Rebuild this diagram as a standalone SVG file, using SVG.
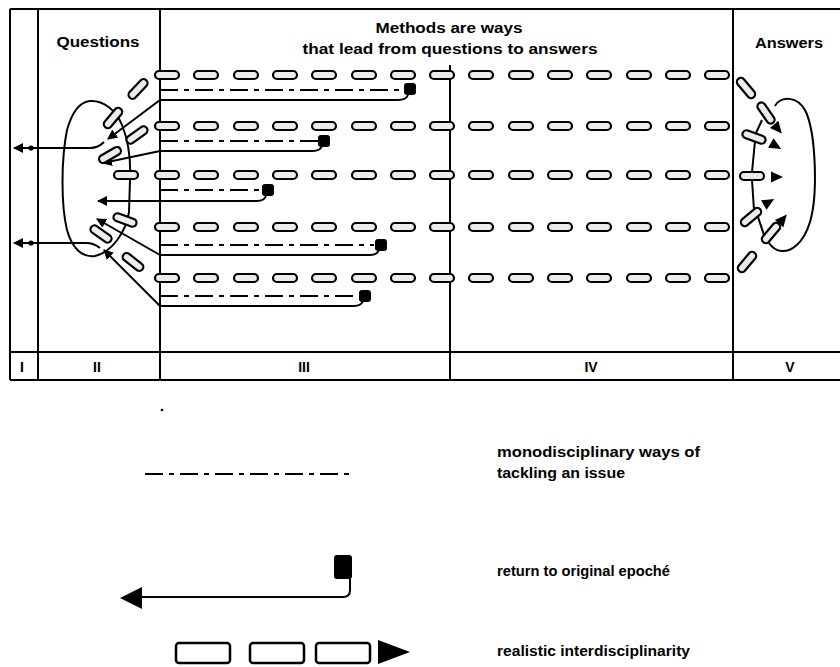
<svg xmlns="http://www.w3.org/2000/svg" xmlns:xlink="http://www.w3.org/1999/xlink" width="840" height="667" viewBox="0 0 840 667">
<style>
.frame{stroke:#000;stroke-width:2;fill:none}
.cap{fill:#ececec;stroke:#000;stroke-width:2.2}
.mono{stroke:#000;stroke-width:2;fill:none;stroke-dasharray:18 6 5 6}
.ret{stroke:#000;stroke-width:2;fill:none;stroke-linejoin:round}
.sq{fill:#000}
.loop{stroke:#000;stroke-width:2;fill:none}
.t{font-family:"Liberation Sans",Arial,sans-serif;font-weight:bold;font-size:14.5px;fill:#000}
.num{font-family:"Liberation Sans",Arial,sans-serif;font-weight:bold;font-size:14px;fill:#000;text-anchor:middle}
</style>
<defs>
<rect id="cap" x="-12" y="-4" width="24" height="8" rx="4" class="cap"/>
<polygon id="tri" points="-6,-5.5 6,0 -6,5.5" fill="#000"/>
<marker id="ah" viewBox="0 0 10 10" refX="9" refY="5" markerWidth="5" markerHeight="5" orient="auto" markerUnits="strokeWidth">
<path d="M0,0 L10,5 L0,10 z" fill="#000"/>
</marker>
<g id="capRow">
<use href="#cap" x="167"/><use href="#cap" x="206"/><use href="#cap" x="246"/><use href="#cap" x="285"/><use href="#cap" x="324"/><use href="#cap" x="364"/><use href="#cap" x="403"/><use href="#cap" x="442"/><use href="#cap" x="481"/><use href="#cap" x="521"/><use href="#cap" x="560"/><use href="#cap" x="599"/><use href="#cap" x="639"/><use href="#cap" x="678"/><use href="#cap" x="717"/>
</g>
</defs>
<rect width="840" height="667" fill="#fff"/>

<g id="frame" class="frame">
<path d="M10,9 H840 M10,352 H840 M10,380 H840"/>
<path d="M10,9 V380 M38,9 V380 M160,9 V380 M733,9 V380"/>
<path d="M450,65 V380"/>
</g>

<g id="col-I"><text class="num" x="22" y="372">I</text></g>
<g id="col-II"><text class="t" x="98" y="47" text-anchor="middle" textLength="83" lengthAdjust="spacingAndGlyphs">Questions</text><text class="num" x="97" y="372">II</text></g>
<g id="col-III"><text class="t" x="449" y="33" text-anchor="middle" textLength="147" lengthAdjust="spacingAndGlyphs">Methods are ways</text><text class="t" x="450" y="54" text-anchor="middle" textLength="295" lengthAdjust="spacingAndGlyphs">that lead from questions to answers</text><text class="num" x="304" y="372">III</text></g>
<g id="col-IV"><text class="num" x="591" y="372">IV</text></g>
<g id="col-V"><text class="t" x="789" y="48" text-anchor="middle" textLength="68" lengthAdjust="spacingAndGlyphs">Answers</text><text class="num" x="790" y="372">V</text></g>

<g id="question-loop">
<path class="loop" d="M90,101 C103,100 116,110 122,125 C128,140 131,160 130,180 L129,212 C126,232 112,252 95,256 C82,258 72,248 67,230 C61,205 61,160 67,130 C72,112 80,102 90,101 Z"/>
</g>

<g id="answer-loop">
<path class="loop" d="M775,106 C780,96 798,95 806,112 C816,135 818,195 810,222 C803,245 790,252 781,251 C775,250 771,246 769,243"/>
</g>

<g id="connectors">
<path class="mono" d="M160,90 H404"/>
<path class="mono" d="M160,141 H318"/>
<path class="mono" d="M160,190 H262"/>
<path class="mono" d="M160,245 H374"/>
<path class="mono" d="M160,296 H358"/>
<rect class="sq" x="404" y="83" width="12" height="12" rx="3"/>
<rect class="sq" x="318" y="135" width="12" height="12" rx="3"/>
<rect class="sq" x="262" y="184" width="12" height="12" rx="3"/>
<rect class="sq" x="375" y="239" width="12" height="12" rx="3"/>
<rect class="sq" x="359" y="290" width="12" height="12" rx="3"/>
<path class="ret" marker-end="url(#ah)" d="M408,95 Q406,100 398,100 H160 L108,139"/>
<path class="ret" marker-end="url(#ah)" d="M322,146 Q320,151 313,151 H160 L103,163"/>
<path class="ret" marker-end="url(#ah)" d="M266,196 Q264,201 257,201 H98"/>
<path class="ret" marker-end="url(#ah)" d="M379,250 Q377,255 370,255 H160 L97,219"/>
<path class="ret" marker-end="url(#ah)" d="M363,301 Q361,306 354,306 H160 L104,250"/>
<path class="ret" marker-end="url(#ah)" d="M104,142 Q98,148 90,148 H14"/>
<path class="ret" marker-end="url(#ah)" d="M100,248 Q94,243 86,243 H14"/>
<circle cx="31" cy="148" r="2.6" fill="#000"/>
<circle cx="31" cy="243" r="2.6" fill="#000"/>

<use href="#capRow" y="75"/>
<use href="#capRow" y="126"/>
<use href="#capRow" y="175"/>
<use href="#capRow" y="227"/>
<use href="#capRow" y="278"/>

<use href="#cap" transform="translate(113,118) rotate(-50)"/>
<use href="#cap" transform="translate(138,89) rotate(-47)"/>
<use href="#cap" transform="translate(110,155) rotate(-30)"/>
<use href="#cap" transform="translate(137,135) rotate(-36)"/>
<use href="#cap" transform="translate(126,175)"/>
<use href="#cap" transform="translate(125,220) rotate(20)"/>
<use href="#cap" transform="translate(101,234) rotate(35)"/>
<use href="#cap" transform="translate(133,262) rotate(38)"/>

<path class="ret" d="M762,120 L756,133 M755,141 L752,172 M752,180 L754,210 M757,214 L765,238"/>
<use href="#cap" transform="translate(746,88) rotate(50)"/>
<use href="#cap" transform="translate(766,113) rotate(55)"/>
<use href="#tri" transform="translate(778,129) rotate(50)"/>
<use href="#cap" transform="translate(754,137) rotate(20)"/>
<use href="#tri" transform="translate(776,146) rotate(30)"/>
<use href="#cap" transform="translate(752,176)"/>
<use href="#tri" transform="translate(777,177)"/>
<use href="#cap" transform="translate(751,217) rotate(-40)"/>
<use href="#tri" transform="translate(769,202) rotate(-30)"/>
<use href="#cap" transform="translate(771,233) rotate(-50)"/>
<use href="#tri" transform="translate(783,219) rotate(-50)"/>
<use href="#cap" transform="translate(747,262) rotate(-50)"/>
</g>

<g id="legend">
<circle cx="162" cy="410" r="1.3" fill="#000"/>
<g id="legend-mono">
<path class="mono" d="M145,474 H350"/>
<text class="t" x="497" y="457" textLength="203" lengthAdjust="spacingAndGlyphs">monodisciplinary ways of</text>
<text class="t" x="497" y="478" textLength="128" lengthAdjust="spacingAndGlyphs">tackling an issue</text>
</g>
<g id="legend-return">
<rect class="sq" x="334" y="555" width="18" height="24" rx="3"/>
<path class="ret" stroke-width="3" d="M350,578 V590 Q350,597 343,597 H138"/>
<polygon points="120,598 142,587 142,609" fill="#000"/>
<text class="t" x="497" y="576" textLength="173" lengthAdjust="spacingAndGlyphs">return to original epoché</text>
</g>
<g id="legend-inter">
<rect x="176" y="643" width="54" height="20" rx="3" fill="#fff" stroke="#000" stroke-width="2.5"/>
<rect x="250" y="643" width="54" height="20" rx="3" fill="#fff" stroke="#000" stroke-width="2.5"/>
<rect x="316" y="643" width="54" height="20" rx="3" fill="#fff" stroke="#000" stroke-width="2.5"/>
<polygon points="378,640 410,652 378,664" fill="#000"/>
<text class="t" x="497" y="656" textLength="193" lengthAdjust="spacingAndGlyphs">realistic interdisciplinarity</text>
</g>
</g>
</svg>
